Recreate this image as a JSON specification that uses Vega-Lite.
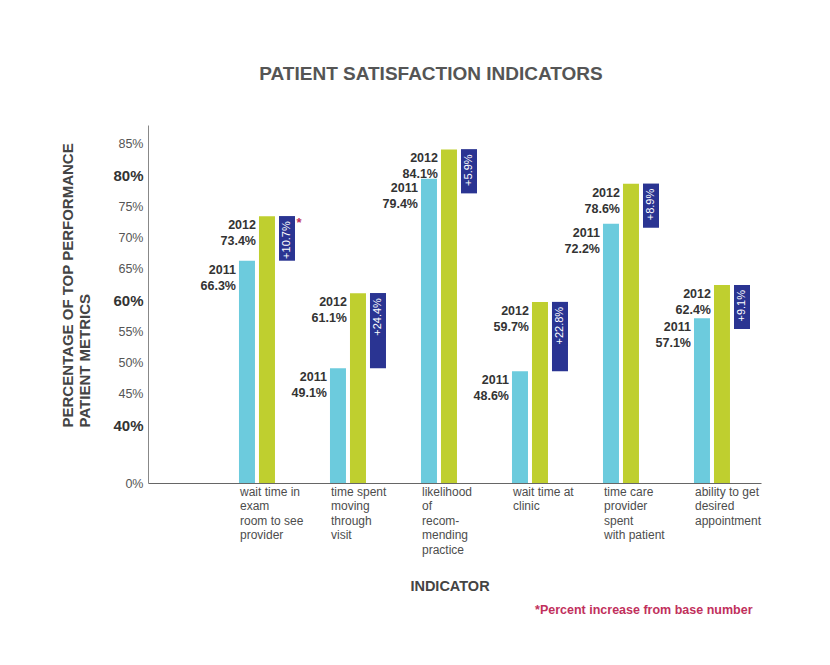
{
  "$schema": "https://vega.github.io/schema/vega-lite/v6.json",
  "width": 613,
  "height": 358,
  "autosize": "none",
  "padding": {"left": 148, "top": 125, "right": 69, "bottom": 182},
  "background": "white",
  "title": {
    "text": "PATIENT SATISFACTION INDICATORS",
    "fontSize": 19,
    "fontWeight": "bold",
    "color": "#555555",
    "anchor": "middle",
    "frame": "group",
    "dx": -23.5,
    "offset": 41
  },
  "datasets": {
    "bars": [
      {"indicator": "wait time in|exam|room to see|provider", "year": "2011", "value": 0.663},
      {"indicator": "wait time in|exam|room to see|provider", "year": "2012", "value": 0.734},
      {"indicator": "time spent|moving|through|visit", "year": "2011", "value": 0.491},
      {"indicator": "time spent|moving|through|visit", "year": "2012", "value": 0.611},
      {"indicator": "likelihood|of|recom-|mending|practice", "year": "2011", "value": 0.794},
      {"indicator": "likelihood|of|recom-|mending|practice", "year": "2012", "value": 0.841},
      {"indicator": "wait time at|clinic", "year": "2011", "value": 0.486},
      {"indicator": "wait time at|clinic", "year": "2012", "value": 0.597},
      {"indicator": "time care|provider|spent|with patient", "year": "2011", "value": 0.722},
      {"indicator": "time care|provider|spent|with patient", "year": "2012", "value": 0.786},
      {"indicator": "ability to get|desired|appointment", "year": "2011", "value": 0.571},
      {"indicator": "ability to get|desired|appointment", "year": "2012", "value": 0.624}
    ],
    "change": [
      {"indicator": "wait time in|exam|room to see|provider", "slot": "change", "from": 0.663, "to": 0.734, "increase": 0.107, "note": "*"},
      {"indicator": "time spent|moving|through|visit", "slot": "change", "from": 0.491, "to": 0.611, "increase": 0.244, "note": ""},
      {"indicator": "likelihood|of|recom-|mending|practice", "slot": "change", "from": 0.794, "to": 0.841, "increase": 0.059, "note": ""},
      {"indicator": "wait time at|clinic", "slot": "change", "from": 0.486, "to": 0.597, "increase": 0.228, "note": ""},
      {"indicator": "time care|provider|spent|with patient", "slot": "change", "from": 0.722, "to": 0.786, "increase": 0.089, "note": ""},
      {"indicator": "ability to get|desired|appointment", "slot": "change", "from": 0.571, "to": 0.624, "increase": 0.091, "note": ""}
    ]
  },
  "layer": [
    {
      "data": {"name": "bars"},
      "mark": {"type": "bar"},
      "encoding": {
        "x": {
          "field": "indicator", "type": "nominal",
          "scale": {
            "domain": ["wait time in|exam|room to see|provider", "time spent|moving|through|visit", "likelihood|of|recom-|mending|practice", "wait time at|clinic", "time care|provider|spent|with patient", "ability to get|desired|appointment"],
            "paddingInner": 0.3846, "paddingOuter": 0.5604, "align": 0.892
          },
          "axis": {
            "orient": "bottom",
            "title": "INDICATOR",
            "titleFontSize": 14.5,
            "titleFontWeight": "bold",
            "titleColor": "#444444",
            "titleX": 301.5,
            "titleY": 103,
            "titleAlign": "center",
            "titleBaseline": "middle",
            "labelExpr": "split(datum.label, '|')",
            "labelAlign": "left",
            "labelBaseline": "top",
            "labelPadding": 3,
            "labelOffset": -27,
            "labelFontSize": 12,
            "labelColor": "#4d4d4d",
            "labelLineHeight": 14.5,
            "labelAngle": 0,
            "labelOverlap": false,
            "labelBound": false,
            "labelLimit": 200,
            "ticks": false,
            "domainColor": "#666666",
            "domainWidth": 1,
            "grid": false
          }
        },
        "xOffset": {
          "field": "year", "type": "nominal",
          "scale": {"domain": ["2011", "2012", "change"], "paddingInner": 0.2, "paddingOuter": 0}
        },
        "y": {
          "field": "value", "type": "quantitative",
          "scale": {"domain": [0, 0.4, 0.88], "range": [358, 300, 0], "nice": false, "zero": false},
          "axis": {
            "orient": "left",
            "values": [0, 0.45, 0.5, 0.55, 0.65, 0.7, 0.75, 0.85],
            "format": ".0%",
            "ticks": false,
            "grid": false,
            "labelPadding": 5,
            "labelOverlap": false,
            "labelFontSize": 12.5,
            "labelColor": "#555555",
            "domainColor": "#888888",
            "domainWidth": 1,
            "title": ["PERCENTAGE OF TOP PERFORMANCE", "PATIENT METRICS"],
            "titleAngle": 270,
            "titleAlign": "left",
            "titleBaseline": "top",
            "titleX": -88,
            "titleY": 302,
            "titleFontSize": 15,
            "titleFontWeight": "bold",
            "titleColor": "#444444",
            "titleLineHeight": 17.5
          }
        },
        "color": {
          "field": "year", "type": "nominal",
          "scale": {"domain": ["2011", "2012"], "range": ["#6ccbdd", "#bfcf2f"]},
          "legend": null
        }
      }
    },
    {
      "data": {"name": "bars"},
      "mark": {"type": "text", "align": "right", "baseline": "top", "dx": -11, "dy": 3, "fontSize": 12.5, "fontWeight": "bold", "color": "#333333"},
      "encoding": {
        "x": {"field": "indicator", "type": "nominal", "axis": null},
        "xOffset": {"field": "year", "type": "nominal"},
        "y": {
          "field": "value", "type": "quantitative",
          "axis": {
            "orient": "left",
            "values": [0.4, 0.6, 0.8],
            "format": ".0%",
            "ticks": false,
            "grid": false,
            "domain": false,
            "labelPadding": 5,
            "labelOverlap": false,
            "labelFontSize": 15,
            "labelFontWeight": "bold",
            "labelColor": "#333333",
            "title": null
          }
        },
        "text": {"field": "year", "type": "nominal"}
      }
    },
    {
      "data": {"name": "bars"},
      "mark": {"type": "text", "align": "right", "baseline": "top", "dx": -11, "dy": 19, "fontSize": 12.5, "fontWeight": "bold", "color": "#333333"},
      "encoding": {
        "x": {"field": "indicator", "type": "nominal", "axis": null},
        "xOffset": {"field": "year", "type": "nominal"},
        "y": {"field": "value", "type": "quantitative", "axis": null},
        "text": {"field": "value", "type": "quantitative", "format": ".1%"}
      }
    },
    {
      "data": {"name": "change"},
      "mark": {"type": "bar", "color": "#2a3492"},
      "encoding": {
        "x": {"field": "indicator", "type": "nominal", "axis": null},
        "xOffset": {"field": "slot", "type": "nominal"},
        "y": {"field": "to", "type": "quantitative", "axis": null},
        "y2": {"field": "from"}
      }
    },
    {
      "data": {"name": "change"},
      "mark": {"type": "bar", "color": "#2a3492", "y2Offset": 44},
      "encoding": {
        "x": {"field": "indicator", "type": "nominal", "axis": null},
        "xOffset": {"field": "slot", "type": "nominal"},
        "y": {"field": "to", "type": "quantitative", "axis": null},
        "y2": {"field": "to"}
      }
    },
    {
      "data": {"name": "change"},
      "mark": {"type": "text", "angle": 270, "align": "right", "baseline": "middle", "dx": -5, "fontSize": 11, "color": "white"},
      "encoding": {
        "x": {"field": "indicator", "type": "nominal", "axis": null},
        "xOffset": {"field": "slot", "type": "nominal"},
        "y": {"field": "to", "type": "quantitative", "axis": null},
        "text": {"field": "increase", "type": "quantitative", "format": "+.1%"}
      }
    },
    {
      "data": {"name": "change"},
      "mark": {"type": "text", "align": "center", "baseline": "top", "dx": 12, "dy": 1, "fontSize": 13, "fontWeight": "bold", "color": "#c1305c"},
      "encoding": {
        "x": {
          "field": "indicator", "type": "nominal",
          "axis": {
            "orient": "bottom",
            "title": "*Percent increase from base number",
            "labels": false,
            "ticks": false,
            "domain": false,
            "grid": false,
            "titleColor": "#c1305c",
            "titleFontSize": 12.5,
            "titleFontWeight": "bold",
            "titleX": 604,
            "titleY": 126,
            "titleAlign": "right",
            "titleBaseline": "middle"
          }
        },
        "xOffset": {"field": "slot", "type": "nominal"},
        "y": {"field": "to", "type": "quantitative", "axis": null},
        "text": {"field": "note", "type": "nominal"}
      }
    }
  ],
  "resolve": {"axis": {"x": "independent", "y": "independent"}},
  "config": {
    "font": "Liberation Sans",
    "view": {"stroke": null}
  }
}
